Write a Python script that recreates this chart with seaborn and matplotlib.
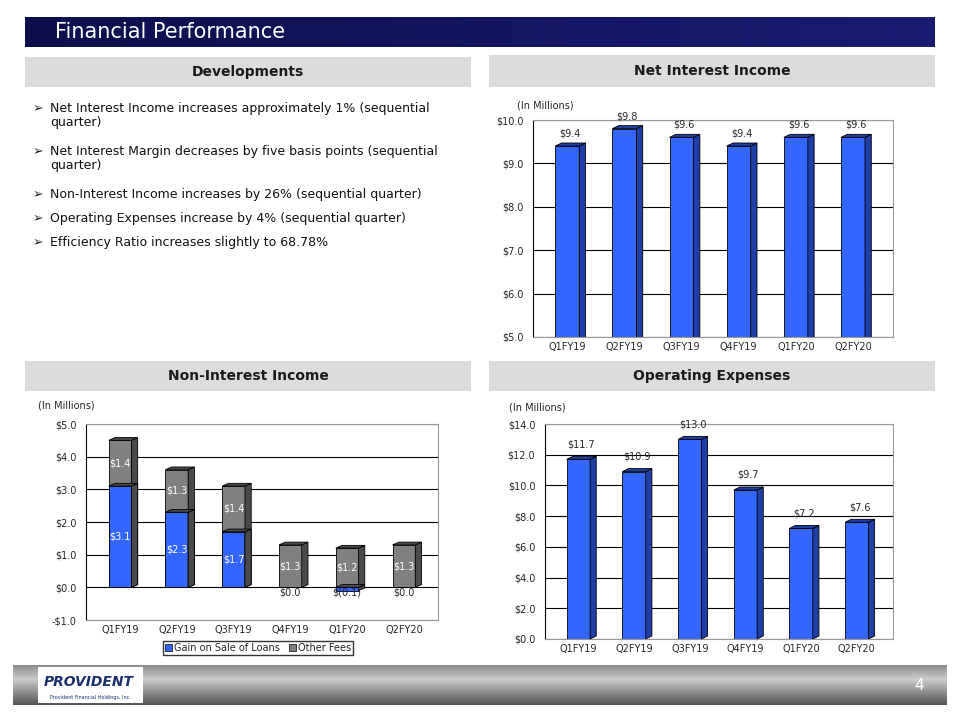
import numpy as np
import pandas as pd
import matplotlib
matplotlib.use("Agg")
import matplotlib.pyplot as plt
from matplotlib.patches import Rectangle, Polygon
import seaborn as sns

quarters = ["Q1FY19", "Q2FY19", "Q3FY19", "Q4FY19", "Q1FY20", "Q2FY20"]
nii = [9.4, 9.8, 9.6, 9.4, 9.6, 9.6]
gain_loans = [3.1, 2.3, 1.7, 0.0, -0.1, 0.0]
other_fees = [1.4, 1.3, 1.4, 1.3, 1.2, 1.3]
opex = [11.7, 10.9, 13.0, 9.7, 7.2, 7.6]
bullets = [
    "Net Interest Income increases approximately 1% (sequential\nquarter)",
    "Net Interest Margin decreases by five basis points (sequential\nquarter)",
    "Non-Interest Income increases by 26% (sequential quarter)",
    "Operating Expenses increase by 4% (sequential quarter)",
    "Efficiency Ratio increases slightly to 68.78%",
]

sns.set_style("white")
plt.rcParams["font.family"] = ["DejaVu Sans"]
W, H = 960, 720
fig = plt.figure(figsize=(9.6, 7.2), dpi=100)

def box(x0, y0, x1, y1):
    return [x0 / W, 1 - y1 / H, (x1 - x0) / W, (y1 - y0) / H]

bg = fig.add_axes([0, 0, 1, 1]); bg.set_axis_off()

# title bar
t = fig.add_axes(box(25, 17, 935, 47))
g = np.linspace(0, 1, 100).reshape(1, -1)
t.imshow(np.dstack([0.05 + 0.05 * g, 0.06 + 0.05 * g, 0.30 + 0.15 * g]), aspect="auto", extent=[0, 1, 0, 1])
t.set_axis_off()
t.text(0.033, 0.5, "Financial Performance", color="white", fontsize=15, va="center")

# section headers
for (x0, y0, x1, y1, txt) in [(25, 57, 471, 87, "Developments"), (489, 55, 935, 87, "Net Interest Income"),
                              (25, 361, 471, 391, "Non-Interest Income"), (489, 361, 935, 391, "Operating Expenses")]:
    a = fig.add_axes(box(x0, y0, x1, y1))
    a.set_facecolor("#dcdcdc"); a.set_xticks([]); a.set_yticks([])
    for s in a.spines.values(): s.set_visible(False)
    a.text(0.5, 0.5, txt, ha="center", va="center", fontsize=10, fontweight="bold", color="#1a1a1a")

# bullets
ys = [102, 145, 188, 212, 236]
for yy, b in zip(ys, bullets):
    bg.text(33 / W, 1 - yy / H, "\u27a2", fontsize=9, va="top", color="#222222")
    bg.text(50 / W, 1 - yy / H, b, fontsize=9, va="top", color="#111111", linespacing=1.1)

def add_3d(ax, color_side, dx=0.11, dy_frac=0.014):
    ylo, yhi = ax.get_ylim()
    dy = (yhi - ylo) * dy_frac
    for p in list(ax.patches):
        x, y, w, h = p.get_x(), p.get_y(), p.get_width(), p.get_height()
        if h == 0:
            continue
        top = max(y, y + h); bot = min(y, y + h)
        ax.add_patch(Polygon([(x + w, bot), (x + w + dx, bot + dy), (x + w + dx, top + dy), (x + w, top)],
                             closed=True, facecolor=color_side, edgecolor="black", lw=0.6, zorder=p.get_zorder()))
        ax.add_patch(Polygon([(x, top), (x + dx, top + dy), (x + w + dx, top + dy), (x + w, top)],
                             closed=True, facecolor=color_side, edgecolor="black", lw=0.6, zorder=p.get_zorder()))

def style(ax, ylim, step):
    ax.set_ylim(*ylim)
    ax.set_yticks(np.arange(ylim[0], ylim[1] + 0.001, step))
    ax.set_yticklabels([(f"${v:.1f}" if v >= 0 else f"-${-v:.1f}") for v in ax.get_yticks()], fontsize=7)
    ax.tick_params(axis="x", labelsize=7, length=0)
    ax.grid(axis="y", color="black", lw=0.8)
    ax.set_axisbelow(True)
    ax.set_xlabel(""); ax.set_ylabel("")
    for s in ax.spines.values():
        s.set_color("#999999")
    ax.spines["left"].set_color("black")

blue, blue_side, gray, gray_side = "#3366ff", "#1f3fa8", "#808080", "#4a4a4a"
kw = dict(saturation=1, edgecolor="black", linewidth=0.6)

# Net interest income
ax1 = fig.add_axes(box(533, 120, 893, 337))
sns.barplot(x=quarters, y=nii, color=blue, width=0.42, ax=ax1, **kw)
style(ax1, (5, 10), 1.0)
add_3d(ax1, blue_side)
ax1.set_xlim(-0.6, 5.7)
for i, v in enumerate(nii):
    ax1.text(i + 0.05, v + 0.22, f"${v:.1f}", ha="center", fontsize=7, clip_on=False)
bg.text(517 / W, 1 - 106 / H, "(In Millions)", fontsize=7, va="center")

# Non-interest income (stacked)
ax2 = fig.add_axes(box(86, 424, 438, 620))
tot = [o + max(gv, 0) for o, gv in zip(other_fees, gain_loans)]
sns.barplot(x=quarters, y=tot, color=gray, width=0.4, ax=ax2, **kw)
sns.barplot(x=quarters, y=gain_loans, color=blue, width=0.4, ax=ax2, **kw)
style(ax2, (-1, 5), 1.0)
add_3d(ax2, gray_side)
ax2.set_xlim(-0.6, 5.6)
for i, (gv, o) in enumerate(zip(gain_loans, other_fees)):
    base = max(gv, 0)
    ax2.text(i, base + o / 2, f"${o:.1f}", ha="center", va="center", fontsize=7, color="white")
    if gv > 0:
        ax2.text(i, gv / 2, f"${gv:.1f}", ha="center", va="center", fontsize=7, color="white")
    else:
        lab = "$0.0" if gv == 0 else f"$({-gv:.1f})"
        ax2.text(i, -0.17, lab, ha="center", va="center", fontsize=7)
bg.text(38 / W, 1 - 406 / H, "(In Millions)", fontsize=7, va="center")
leg_h = [Rectangle((0, 0), 1, 1, fc=blue, ec="black", lw=0.5), Rectangle((0, 0), 1, 1, fc=gray, ec="black", lw=0.5)]
fig.legend(leg_h, ["Gain on Sale of Loans", "Other Fees"], loc="center", bbox_to_anchor=(258 / W, 1 - 648 / H),
           ncol=2, fontsize=7, frameon=True, fancybox=False, edgecolor="black", handlelength=0.7,
           handleheight=0.7, handletextpad=0.2, columnspacing=1.0, borderpad=0.2)

# Operating expenses
ax3 = fig.add_axes(box(545, 424, 893, 639))
sns.barplot(x=quarters, y=opex, color=blue, width=0.42, ax=ax3, **kw)
style(ax3, (0, 14), 2.0)
add_3d(ax3, blue_side)
ax3.set_xlim(-0.6, 5.65)
for i, v in enumerate(opex):
    ax3.text(i + 0.05, v + 0.8, f"${v:.1f}", ha="center", fontsize=7, clip_on=False)
bg.text(509 / W, 1 - 408 / H, "(In Millions)", fontsize=7, va="center")

# footer
f = fig.add_axes(box(13, 665, 947, 705))
g2 = np.linspace(0, 1, 60).reshape(-1, 1)
shade = 0.35 + 0.45 * (1 - np.abs(g2 - 0.35) * 1.6)
f.imshow(np.dstack([shade, shade, shade]), aspect="auto", extent=[0, 1, 0, 1])
f.set_axis_off()
f.text(0.965, 0.5, "4", color="white", fontsize=11, va="center")
lg = fig.add_axes(box(38, 667, 143, 703))
lg.set_facecolor("white"); lg.set_xticks([]); lg.set_yticks([])
for s in lg.spines.values(): s.set_visible(False)
lg.text(0.05, 0.58, "PROVIDENT", color="#1b2f6b", fontsize=10, fontweight="bold", fontstyle="italic", va="center")
lg.text(0.5, 0.15, "Provident Financial Holdings, Inc.", color="#1b2f6b", fontsize=3.5, ha="center", va="center")

fig.savefig("out.png", dpi=100)
